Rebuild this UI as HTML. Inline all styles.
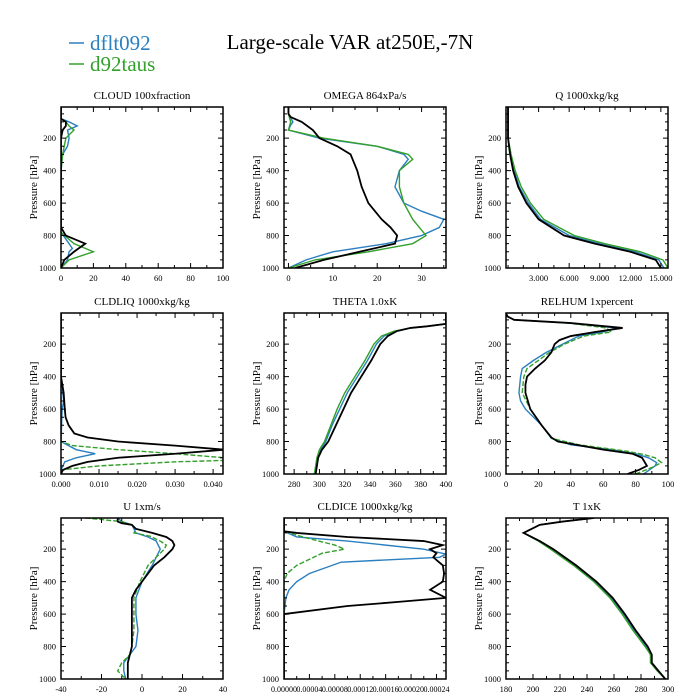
<!DOCTYPE html>
<html><head><meta charset="utf-8"><style>
body{margin:0;background:#fff}
svg{display:block;font-family:"Liberation Serif",serif}
</style></head><body>
<svg id="chart" width="700" height="700" viewBox="0 0 700 700">
<text x="350" y="49" text-anchor="middle" font-size="21">Large-scale VAR at250E,-7N</text>
<g>
<line x1="69" y1="43" x2="84" y2="43" stroke="#2a7fc0" stroke-width="1.5"/>
<text x="90" y="50" font-size="21" fill="#2a7fc0">dflt092</text>
<line x1="69" y1="64" x2="84" y2="64" stroke="#33a02c" stroke-width="1.5"/>
<text x="90" y="71" font-size="21" fill="#33a02c">d92taus</text>
</g>
</svg>
<script>
// ---- data arrays (pressure levels hPa and values) ----
const cloudPk=[8,80,100,125,150,200,750,800,850,900,950,1000];
const cloudK =[0,0,3,3,1,0,0,3,15,8,2,0];
const cloudPb=[8,80,100,125,150,200,250,300,400,780,850,880,900,950,1000];
const cloudB =[0,0,5,10,4,5,4,1,0,0,5,7,5,4,0];
const cloudPg=[8,80,100,125,150,200,300,400,780,850,900,950,1000];
const cloudG =[0,0,3,5,8,3,1,0,0,8,20,5,0];

const omegaPk=[8,50,70,100,150,200,250,300,400,500,600,650,700,750,800,850,900,950,1000];
const omegaK =[0,0,0.5,3,5.5,7,11,14,15.5,16.5,18,19.5,21,23,24.5,24,16,8,1.5];
const omegaPb=[8,50,100,120,150,200,250,300,330,400,500,600,650,700,750,800,850,900,950,1000];
const omegaB =[0,0,1,0.5,0,7,20,26,27,25,24,26,30,35,34,30,22,10,4,0];
const omegaPg=[8,50,100,150,200,250,300,330,400,500,600,700,800,850,900,950,1000];
const omegaG =[0,0,0.5,0,8,20,27,28,25,25,26,28,31,28,18,6,0];

const qP=[8,200,300,400,500,600,700,800,850,900,950,1000];
const qK=[0,0,0.2,0.5,1,1.8,3,5.5,8.5,12,14.5,15];
const qB=[0,0,0.2,0.6,1.1,2,3.2,6,9,12.5,14.8,15.3];
const qG=[0,0,0.3,0.7,1.3,2.2,3.5,6.5,9.5,13,15.2,15.7];

const liqPk=[8,400,500,600,650,700,750,775,800,825,850,875,900,925,950,975,1000];
const liqK =[0,0,0.0007,0.001,0.0012,0.002,0.0035,0.007,0.015,0.03,0.043,0.03,0.015,0.007,0.003,0.0005,0];
const liqPb=[8,400,550,600,800,850,875,900,925,950,975,1000];
const liqB =[0,0,0.0007,0.0003,0,0.004,0.009,0.004,0.001,0.0005,0,0];
const liqPg=[8,400,800,825,850,875,900,915,925,950,975,1000];
const liqG =[0,0,0,0.003,0.015,0.03,0.043,0.045,0.03,0.01,0,0];

const thPk=[8,75,90,100,120,150,200,300,400,500,600,700,800,850,900,1000];
const thK =[400,400,385,372,361,354,348,341,333,325,319,313,307,302,299,297];
const thB =[400,400,385,372,360,351,345,338,330,322,316,310,305,301,299,297];
const thG =[400,400,385,372,359,349,343,336,328,320,314,309,304,300,298,296];

const rhPk=[8,30,50,70,100,125,150,175,200,250,300,350,400,450,500,600,700,775,800,850,875,900,950,975,1000];
const rhK =[0,1,5,40,72,55,40,33,30,28,24,18,13,12,12,15,22,28,32,60,78,84,87,82,75];
const rhPb=[8,30,50,70,100,125,150,200,250,300,350,400,500,550,600,700,780,820,850,875,900,930,950,1000];
const rhB =[0,1,5,40,68,60,45,35,25,17,10,9,8,9,12,22,28,40,65,80,88,93,92,85];
const rhPg=[8,30,50,70,100,125,150,200,250,300,350,400,500,600,700,780,820,860,880,900,930,960,1000];
const rhG =[0,1,5,38,62,65,48,36,27,20,13,11,10,15,22,28,45,75,85,92,96,90,80];

const uPk=[8,30,40,50,75,100,125,150,175,200,250,300,400,450,500,600,700,800,900,1000];
const uK =[-12,-12,-10,-5,-3,5,12,15,16,15,11,6,0,-3,-5,-5,-5,-5,-7,-7];
const uPb=[8,30,50,75,100,125,150,200,300,400,500,600,700,800,850,900,950,1000];
const uB =[-12,-10,-5,-4,-3,3,7,9,5,0,-3,-3,-2,-3,-6,-9,-9,-8];
const uPg=[8,30,50,75,100,120,150,175,200,300,400,500,600,700,800,850,900,950,1000];
const uG =[-28,-10,-5,-3,-4,4,9,12,11,3,-1,-4,-4,-4,-5,-6,-10,-12,-8];

const icePk=[8,90,100,125,150,175,200,225,250,300,350,400,450,500,525,550,600,1000];
const iceK =[0,0,0.00002,0.0001,0.00022,0.00025,0.00023,0.00024,0.000235,0.00025,0.000252,0.00025,0.00023,0.000255,0.00018,0.0001,0,0];
const icePb=[8,90,125,150,200,230,250,280,350,400,450,500,600,1000];
const iceB =[0,0,0.00002,0.0001,0.00022,0.000255,0.000245,0.00009,0.00004,0.00002,0.000008,0.000003,0,0];
const icePg=[8,90,125,175,200,225,300,350,400,1000];
const iceG =[0,0,0.00003,0.00008,0.000095,0.00006,0.00002,0.000005,0,0];

const tP=[8,30,50,100,150,200,300,400,500,600,700,800,850,900,950,1000];
const tK=[245,222,205,193,205,215,232,247,259,268,276,285,288,288,293,298];
const tB=[245,222,205,193,204,214,231,246,258,267,275,284,287,288,293,298];
const tG=[245,222,205,193,204,213,230,245,257,266,274,283,287,287,292,298];

const C={k:"#000",b:"#2a7fc0",g:"#33a02c"};
const panels=[
 {name:"cloud",title:"CLOUD  100xfraction",col:0,row:0,xmin:0,xmax:100,ticks:[0,20,40,60,80,100],labels:["0","20","40","60","80","100"],minor:10,
  series:[[cloudPb,cloudB,"b",""],[cloudPg,cloudG,"g",""],[cloudPk,cloudK,"k",""]]},
 {name:"omega",title:"OMEGA  864xPa/s",col:1,row:0,xmin:-1,xmax:35.5,ticks:[0,10,20,30],labels:["0","10","20","30"],minor:5,
  series:[[omegaPb,omegaB,"b",""],[omegaPg,omegaG,"g",""],[omegaPk,omegaK,"k",""]]},
 {name:"q",title:"Q  1000xkg/kg",col:2,row:0,xmin:-0.2,xmax:15.7,ticks:[3,6,9,12,15],labels:["3.000","6.000","9.000","12.000","15.000"],minor:1.5,
  series:[[qP,qB,"b",""],[qP,qG,"g",""],[qP,qK,"k",""]]},
 {name:"cldliq",title:"CLDLIQ  1000xkg/kg",col:0,row:1,xmin:0,xmax:0.0426,ticks:[0,0.01,0.02,0.03,0.04],labels:["0.000","0.010","0.020","0.030","0.040"],minor:0.005,
  series:[[liqPb,liqB,"b",""],[liqPg,liqG,"g","5,2"],[liqPk,liqK,"k",""]]},
 {name:"theta",title:"THETA  1.0xK",col:1,row:1,xmin:272,xmax:400,ticks:[280,300,320,340,360,380,400],labels:["280","300","320","340","360","380","400"],minor:10,
  series:[[thPk,thB,"b",""],[thPk,thG,"g",""],[thPk,thK,"k",""]]},
 {name:"relhum",title:"RELHUM  1xpercent",col:2,row:1,xmin:0,xmax:100,ticks:[0,20,40,60,80,100],labels:["0","20","40","60","80","100"],minor:10,
  series:[[rhPb,rhB,"b",""],[rhPg,rhG,"g","5,2"],[rhPk,rhK,"k",""]]},
 {name:"u",title:"U  1xm/s",col:0,row:2,xmin:-40,xmax:40,ticks:[-40,-20,0,20,40],labels:["-40","-20","0","20","40"],minor:10,
  series:[[uPb,uB,"b",""],[uPg,uG,"g","5,2"],[uPk,uK,"k",""]]},
 {name:"cldice",title:"CLDICE  1000xkg/kg",col:1,row:2,xmin:0,xmax:0.000255,ticks:[0,0.00004,0.00008,0.00012,0.00016,0.0002,0.00024],labels:["0.00000","0.00004","0.00008","0.00012","0.00016","0.00020","0.00024"],minor:0.00002,
  series:[[icePb,iceB,"b",""],[icePg,iceG,"g","5,2"],[icePk,iceK,"k",""]]},
 {name:"t",title:"T  1xK",col:2,row:2,xmin:180,xmax:300,ticks:[180,200,220,240,260,280,300],labels:["180","200","220","240","260","280","300"],minor:10,
  series:[[tP,tB,"b",""],[tP,tG,"g",""],[tP,tK,"k",""]]}
];
const colX=[61,284,506], rowY=[107,313,518], W=162, H=161, PMIN=8, PMAX=1000;
const NS="http://www.w3.org/2000/svg";
const svg=document.getElementById("chart");
function mk(tag,attrs,parent){const e=document.createElementNS(NS,tag);for(const k in attrs)e.setAttribute(k,attrs[k]);(parent||svg).appendChild(e);return e;}
const defs=mk("defs",{});
panels.forEach((P,i)=>{
 const x0=colX[P.col], y0=rowY[P.row];
 const xs=v=>x0+(v-P.xmin)/(P.xmax-P.xmin)*W;
 const ys=p=>y0+(p-PMIN)/(PMAX-PMIN)*H;
 const g=mk("g",{});
 
 
 const cp=mk("clipPath",{id:"c"+i},defs);
 mk("rect",{x:x0,y:y0,width:W,height:H},cp);
 const t=mk("text",{x:x0+W/2,y:y0-8,"text-anchor":"middle","font-size":"11"},g);
 t.textContent=P.title;
 
 
 const yl=mk("text",{x:0,y:0,"text-anchor":"middle","font-size":"11",transform:`translate(${x0-24},${y0+H/2}) rotate(-90)`},g);
 yl.textContent="Pressure [hPa]";
 
 
 // series
 P.series.forEach(s=>{
  const d=s[0].map((p,j)=>(j?"L":"M")+xs(s[1][j]).toFixed(2)+","+ys(p).toFixed(2)).join("");
  const path=mk("path",{d:d,fill:"none",stroke:C[s[2]],"stroke-width":s[2]=="k"?1.8:1.4,"clip-path":`url(#c${i})`},g);
  if(s[3])path.setAttribute("stroke-dasharray",s[3]);
  
  
 });
 // ticks
 let tk="";
 for(let p=50;p<=1000;p+=50){const y=ys(p),L=(p%200==0)?5:3;tk+=`M${x0},${y}h${L}M${x0+W},${y}h${-L}`;}
 const first=Math.ceil((P.xmin-1e-12)/P.minor)*P.minor;
 for(let v=first;v<=P.xmax+1e-12;v+=P.minor){const x=xs(v);const major=P.ticks.some(q=>Math.abs(q-v)<P.minor*0.01);const L=major?5:3;tk+=`M${x},${y0+H}v${-L}M${x},${y0}v${L}`;}
 mk("path",{d:tk,stroke:"#000","stroke-width":1,fill:"none"},g);
 const fr=mk("rect",{x:x0,y:y0,width:W,height:H,fill:"none",stroke:"#000","stroke-width":1.5},g);
 
 
 [200,400,600,800,1000].forEach(p=>{
  const tl=mk("text",{x:x0-5,y:ys(p)+3,"text-anchor":"end","font-size":"8.5"},g);
  tl.textContent=p;
  
  
 });
 P.ticks.forEach((v,j)=>{
  const tl=mk("text",{x:xs(v),y:y0+H+13,"text-anchor":"middle","font-size":P.name=="cldice"?"8":"8.5"},g);
  tl.textContent=P.labels[j];
  
  
 });
});
</script>
</body></html>
